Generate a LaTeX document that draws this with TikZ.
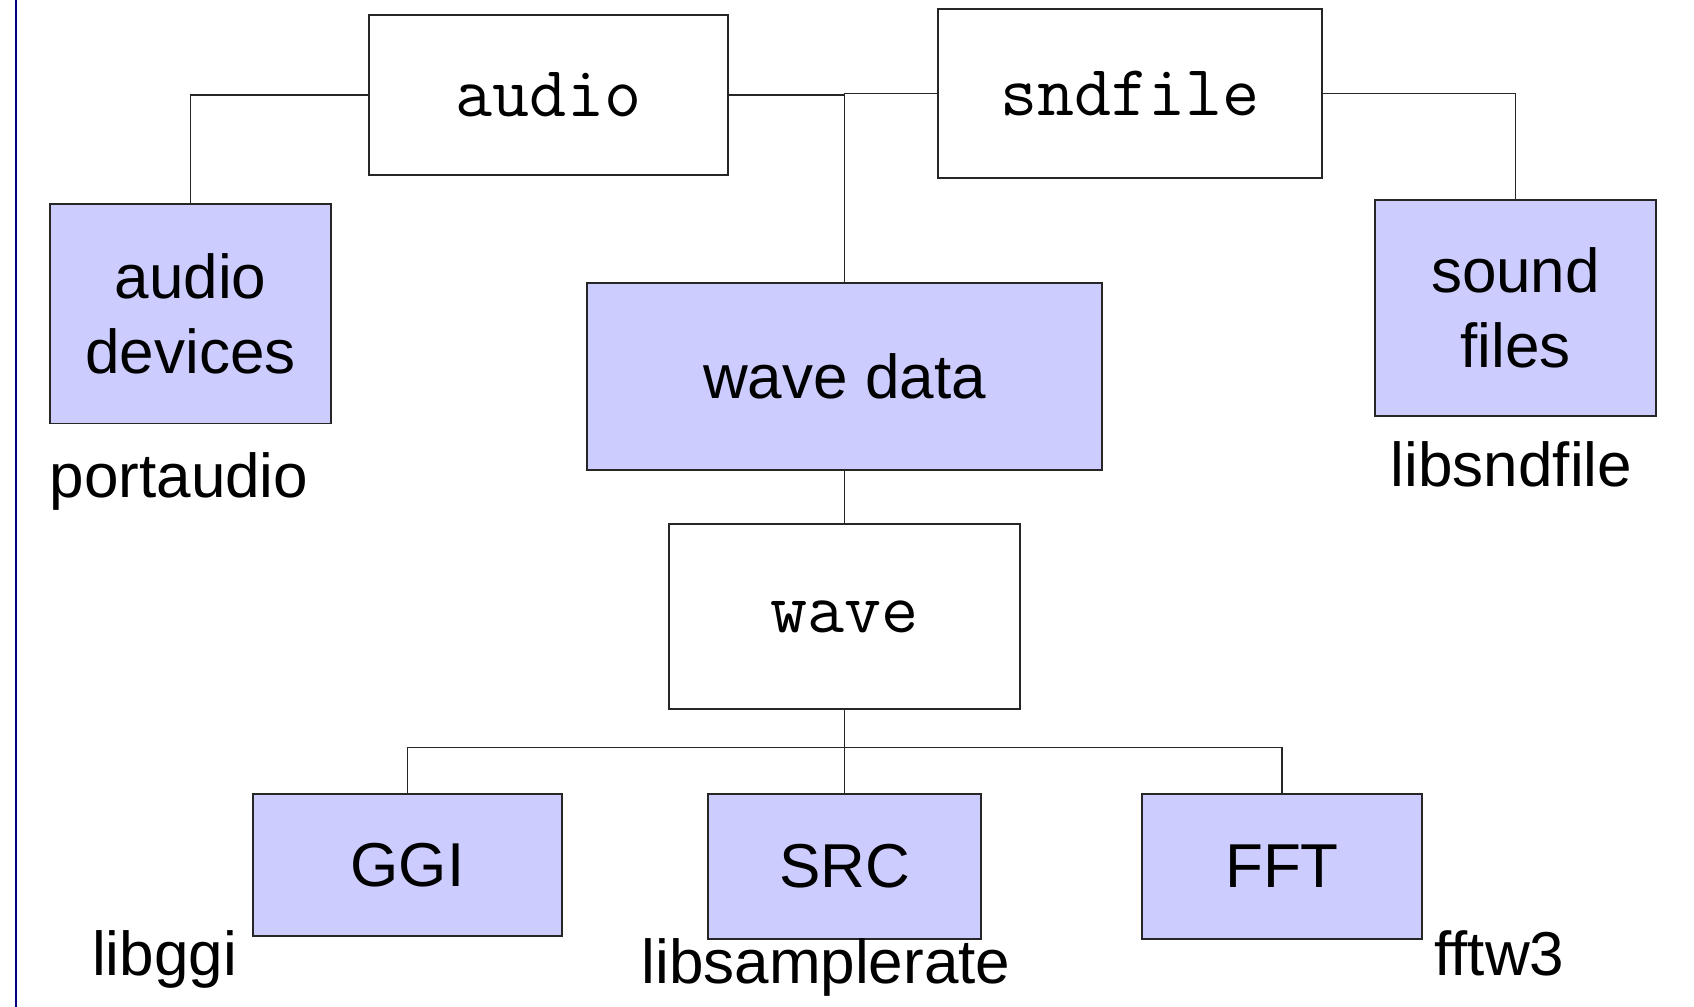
\documentclass[tikz,border=0pt]{standalone}
\usepackage{fontspec}
\setmainfont{Liberation Sans}
\definecolor{libfill}{HTML}{CCCCFF}
\definecolor{rule}{HTML}{000080}
\begin{document}
\begin{tikzpicture}[x=0.5pt,y=-0.5pt,
  box/.style={draw=black!85,line width=0.7pt,inner sep=0pt,outer sep=0pt,
    align=center,font=\fontsize{31}{37.5}\selectfont},
  libbox/.style={box,fill=libfill},
  modbox/.style={box,fill=white,font=\fontsize{36}{40}\selectfont\ttfamily},
  lib/.style={anchor=base,inner sep=0pt,font=\fontsize{31}{37.5}\selectfont},
  link/.style={draw=black!85,line width=0.55pt}]
\useasboundingbox (0,0) rectangle (1694,1007);
\fill[white] (0,0) rectangle (1694,1007);
% page rule on the left
\draw[rule,line width=1pt] (16,0) -- (16,1007);

% modules (white) and the things they wrap (blue)
\node[modbox,minimum width=179.5pt,minimum height=80pt]   (audio)   at (548.5,95)    {audio};
\node[modbox,minimum width=192pt,minimum height=84.5pt]   (sndfile) at (1130,93.5)   {sndfile};
\node[libbox,minimum width=140.5pt,minimum height=109.75pt] (adev)  at (190.5,313.75) {audio\\devices};
\node[libbox,minimum width=257.5pt,minimum height=93.5pt] (wdata)   at (844.5,376.5) {wave data};
\node[libbox,minimum width=140.5pt,minimum height=108pt]  (sfiles)  at (1515.5,308)  {sound\\files};
\node[modbox,minimum width=175.5pt,minimum height=92.5pt] (wave)    at (844.5,616.5) {wave};
\node[libbox,minimum width=154.5pt,minimum height=71pt]   (ggi)     at (407.5,865)   {GGI};
\node[libbox,minimum width=136.5pt,minimum height=72.5pt] (src)     at (844.5,866.5) {SRC};
\node[libbox,minimum width=140pt,minimum height=72.5pt]   (fft)     at (1282,866.5)  {FFT};

% library names
\node[lib] (lportaudio) at (179,497)    {portaudio};
\node[lib] (lsndfile)   at (1511.5,486) {libsndfile};
\node[lib] (lggi)       at (164.5,975)  {libggi};
\node[lib] (lsrc)       at (826,983)    {libsamplerate};
\node[lib] (lfftw)      at (1499.5,975) {fftw3};

% connectors
\coordinate (bus) at (844.5,747.6);
\path[link] (audio.west) -| (adev.north);
\path[link] (audio.east) -- (audio.east -| wdata.north);
\path[link] (sndfile.west) -| (wdata.north);
\path[link] (sndfile.east) -| (sfiles.north);
\path[link] (wdata.south) -- (wave.north);
\path[link] (wave.south) -- (src.north);
\path[link] (ggi.north) |- (bus) -| (fft.north);
\end{tikzpicture}
\end{document}
